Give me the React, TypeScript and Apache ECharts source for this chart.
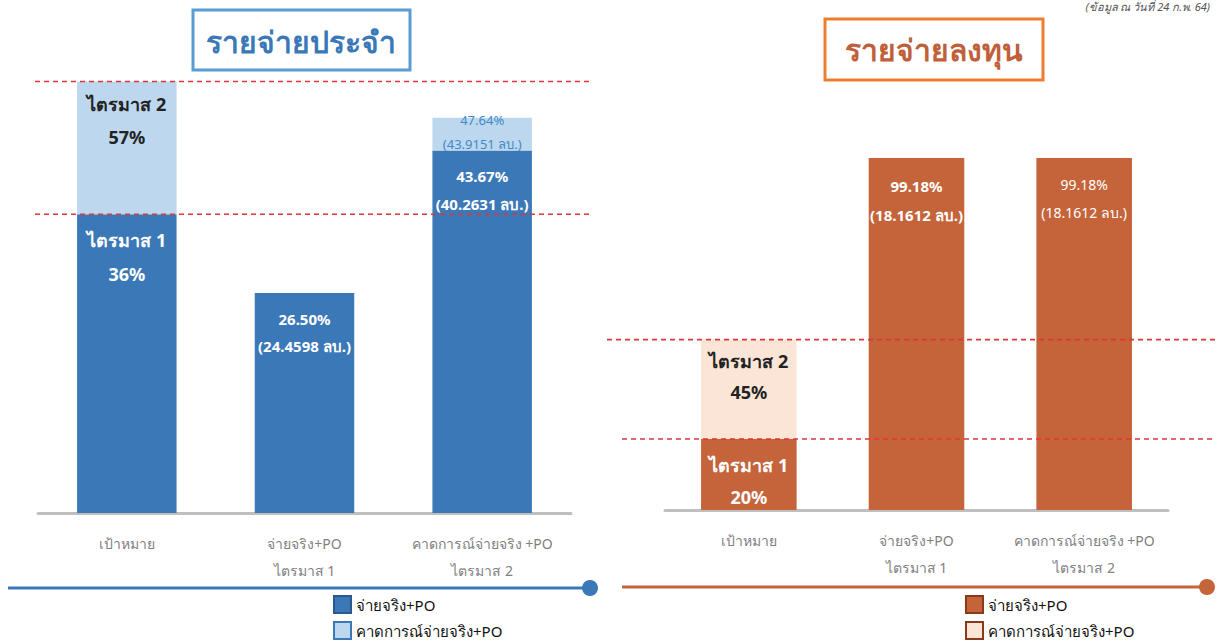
import React, { useEffect, useRef } from 'react';
import * as echarts from 'echarts';

const categories = ['เป้าหมาย', 'จ่ายจริง+PO\nไตรมาส 1', 'คาดการณ์จ่ายจริง +PO\nไตรมาส 2'];
const seriesNames = ['จ่ายจริง+PO', 'คาดการณ์จ่ายจริง+PO'];

// รายจ่ายประจำ (left)
const regularActual = [36, 26.5, 43.67];
const regularForecastTop = [52, null, 47.64];
const regularActualLabels = ['ไตรมาส 1\n36%', '26.50%\n(24.4598 ลบ.)', '43.67%\n(40.2631 ลบ.)'];
const regularForecastLabels = ['ไตรมาส 2\n57%', '', '47.64%\n(43.9151 ลบ.)'];
const regularTargetLines = [52, 36];

// รายจ่ายลงทุน (right)
const capitalActual = [20, 99.18, 99.18];
const capitalForecastTop = [48, null, null];
const capitalActualLabels = ['ไตรมาส 1\n20%', '99.18%\n(18.1612 ลบ.)', '99.18%\n(18.1612 ลบ.)'];
const capitalForecastLabels = ['ไตรมาส 2\n45%', '', ''];
const capitalTargetLines = [48, 20];

const titles = ['รายจ่ายประจำ', 'รายจ่ายลงทุน'];
const note = '(ข้อมูล ณ วันที่ 24 ก.พ. 64)';

const FONT = '"Noto Sans", "DejaVu Sans", sans-serif';

export default function App() {
  const ref = useRef<HTMLDivElement>(null);
  useEffect(() => {
    const chart = echarts.init(ref.current!, null, { renderer: 'svg' });

    const lbl = (text: string, color: string, size: number, bold: boolean, lh: number, dist: number, offset?: number[]) => ({
      show: !!text,
      position: 'insideTop',
      distance: dist,
      offset: offset || [0, 0],
      formatter: text,
      color,
      fontSize: size,
      fontWeight: bold ? 'bold' : 'normal',
      lineHeight: lh,
      fontFamily: FONT,
    });

    const L_DARK = '#3B78B8', L_LIGHT = '#BDD7EE';
    const R_DARK = '#C5643A', R_LIGHT = '#FBE5D6';

    const leftDarkLabels = [
      lbl(regularActualLabels[0], '#fff', 18, true, 34, 9),
      lbl(regularActualLabels[1], '#fff', 15, true, 27, 12),
      lbl(regularActualLabels[2], '#fff', 15, true, 28, 11),
    ];
    const leftLightLabels = [
      lbl(regularForecastLabels[0], '#222', 18, true, 33, 6),
      lbl(regularForecastLabels[1], '#fff', 14, false, 20, 5),
      lbl(regularForecastLabels[2], '#3C8AC9', 13, false, 24, 0, [0, -10]),
    ];
    const rightDarkLabels = [
      lbl(capitalActualLabels[0], '#fff', 18, true, 32, 10),
      lbl(capitalActualLabels[1], '#fff', 15, true, 29, 14),
      lbl(capitalActualLabels[2], '#fff', 14, false, 28, 13),
    ];
    const rightLightLabels = [
      lbl(capitalForecastLabels[0], '#222', 18, true, 31, 6),
      lbl(capitalForecastLabels[1], '#222', 14, false, 20, 5),
      lbl(capitalForecastLabels[2], '#222', 14, false, 20, 5),
    ];

    const darkData = (vals: number[], labels: any[]) => vals.map((v, i) => ({ value: v, label: labels[i] }));
    const lightData = (tops: (number | null)[], base: number[], labels: any[]) =>
      tops.map((t, i) => (t == null ? '-' : { value: +(t - base[i]).toFixed(2), label: labels[i] }));

    const xAxisCommon = {
      type: 'category',
      data: categories,
      axisLine: { lineStyle: { color: '#BFBFBF', width: 3 } },
      axisTick: { show: false },
      axisLabel: { interval: 0, color: '#7F7F7F', fontSize: 14, lineHeight: 27, margin: 17, fontFamily: FONT },
    };

    chart.setOption({
      animation: false,
      grid: [
        { left: 38, right: 647, top: 40, bottom: 127 },
        { left: 665, right: 50, top: 155, bottom: 130 },
      ],
      xAxis: [
        { ...xAxisCommon, gridIndex: 0 },
        { ...xAxisCommon, gridIndex: 1 },
      ],
      yAxis: [
        { type: 'value', gridIndex: 0, min: 0, max: 57, show: false },
        { type: 'value', gridIndex: 1, min: 0, max: 100, show: false },
      ],
      legend: [
        {
          left: 333, top: 595, orient: 'vertical', itemWidth: 17, itemHeight: 17, itemGap: 7, padding: 0,
          icon: 'rect', selectedMode: false,
          textStyle: { fontSize: 15, color: '#111', fontFamily: FONT },
          data: [
            { name: seriesNames[0], itemStyle: { color: L_DARK, borderColor: '#2A5A8C', borderWidth: 2 } },
            { name: seriesNames[1], itemStyle: { color: L_LIGHT, borderColor: '#3B78B8', borderWidth: 2 } },
          ],
        },
        {
          left: 965, top: 595, orient: 'vertical', itemWidth: 17, itemHeight: 17, itemGap: 7, padding: 0,
          icon: 'rect', selectedMode: false,
          textStyle: { fontSize: 15, color: '#111', fontFamily: FONT },
          data: [
            { name: seriesNames[0], itemStyle: { color: R_DARK, borderColor: '#8A3A18', borderWidth: 2 } },
            { name: seriesNames[1], itemStyle: { color: R_LIGHT, borderColor: '#8A3A18', borderWidth: 2 } },
          ],
        },
      ],
      series: [
        {
          name: seriesNames[0], type: 'bar', stack: 'L', xAxisIndex: 0, yAxisIndex: 0, barWidth: '56%',
          itemStyle: { color: L_DARK }, data: darkData(regularActual, leftDarkLabels),
        },
        {
          name: seriesNames[1], type: 'bar', stack: 'L', xAxisIndex: 0, yAxisIndex: 0, barWidth: '56%',
          itemStyle: { color: L_LIGHT }, data: lightData(regularForecastTop, regularActual, leftLightLabels),
        },
        {
          name: seriesNames[0], type: 'bar', stack: 'R', xAxisIndex: 1, yAxisIndex: 1, barWidth: '57%',
          itemStyle: { color: R_DARK }, data: darkData(capitalActual, rightDarkLabels),
        },
        {
          name: seriesNames[1], type: 'bar', stack: 'R', xAxisIndex: 1, yAxisIndex: 1, barWidth: '57%',
          itemStyle: { color: R_LIGHT }, data: lightData(capitalForecastTop, capitalActual, rightLightLabels),
        },
      ],
    });

    const yPix = (gi: number, v: number) => (chart.convertToPixel({ gridIndex: gi } as any, [0, v]) as number[])[1];
    const dashed = (x1: number, x2: number, y: number) => ({
      type: 'line', z: 10, silent: true,
      shape: { x1, y1: y, x2, y2: y },
      style: { stroke: '#E0353B', lineWidth: 1.6, lineDash: [5, 4] },
    });

    const graphics: any[] = [];
    regularTargetLines.forEach((v) => graphics.push(dashed(35, 590, yPix(0, v))));
    capitalTargetLines.forEach((v, i) => graphics.push(dashed(i === 0 ? 607 : 622, 1216, yPix(1, v))));

    graphics.push(
      { type: 'rect', shape: { x: 193, y: 10, width: 217, height: 60 }, style: { fill: '#fff', stroke: '#5B9BD5', lineWidth: 3 } },
      { type: 'text', x: 301, y: 41, style: { text: titles[0], align: 'center', verticalAlign: 'middle', font: `bold 30px ${FONT}`, fill: '#3A78B8' } },
      { type: 'rect', shape: { x: 825, y: 19, width: 218, height: 61 }, style: { fill: '#fff', stroke: '#ED7D31', lineWidth: 3 } },
      { type: 'text', x: 934, y: 49, style: { text: titles[1], align: 'center', verticalAlign: 'middle', font: `bold 30px ${FONT}`, fill: '#C0603A' } },
      { type: 'text', x: 1210, y: 1, style: { text: note, align: 'right', verticalAlign: 'top', font: `italic 11px ${FONT}`, fill: '#555' } },
      { type: 'line', shape: { x1: 8, y1: 588, x2: 590, y2: 588 }, style: { stroke: '#3B78B8', lineWidth: 3 } },
      { type: 'circle', shape: { cx: 590, cy: 588, r: 8 }, style: { fill: '#3B78B8' } },
      { type: 'line', shape: { x1: 622, y1: 587, x2: 1207, y2: 587 }, style: { stroke: '#C5643A', lineWidth: 3 } },
      { type: 'circle', shape: { cx: 1207, cy: 587, r: 8 }, style: { fill: '#C5643A' } },
    );

    chart.setOption({ graphic: graphics });

    return () => chart.dispose();
  }, []);

  return <div ref={ref} style={{ position: 'fixed', left: 0, top: 0, width: 1218, height: 640, background: '#fff' }} />;
}
